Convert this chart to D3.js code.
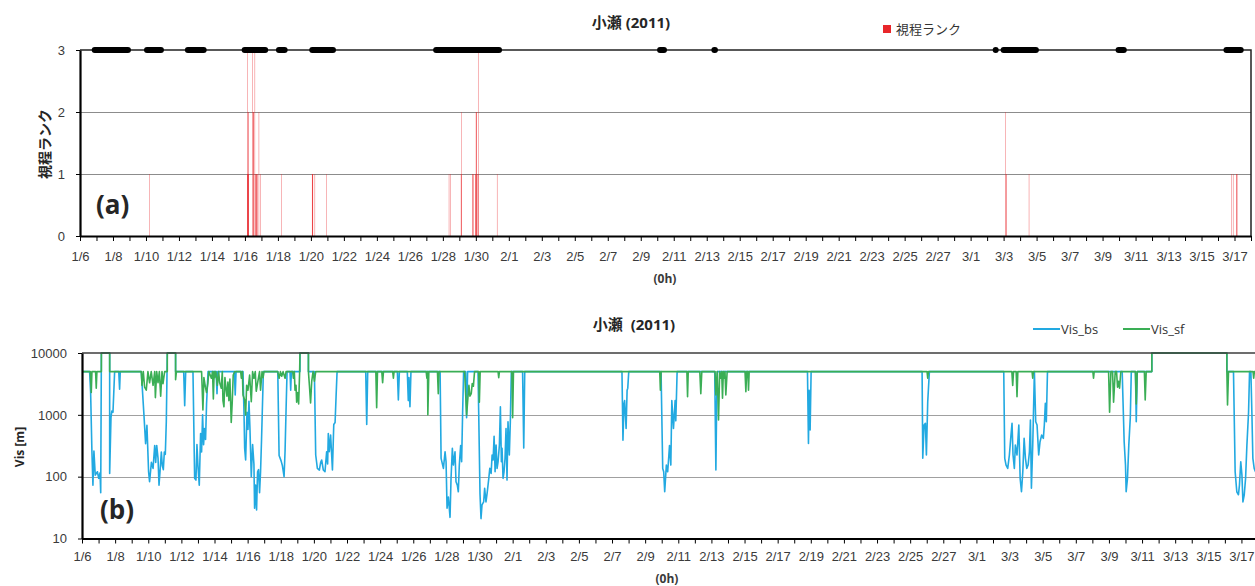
<!DOCTYPE html>
<html>
<head>
<meta charset="utf-8">
<script src="https://cdn.jsdelivr.net/npm/d3@7/dist/d3.min.js"></script>
<style>
	body { margin: 0; background: #fff; }
	svg { display: block; font-family: "Open Sans", "Noto Sans CJK JP", sans-serif; }
	.axis text { font-size: 13px; fill: #3a3a3a; }
	.axis path, .axis line { stroke: #000; }
</style>
</head>
<body>
<svg width="1255" height="586"></svg>
<script>
// days are counted from 1/6 0h
const dayCount = 71;

// 視程ランク : [hour from 1/6 0h, rank]
const rankObs = [
	[101, 1],
	[243.4, 3], [243.8, 1], [244.0, 1], [244.2, 1], [244.5, 2], [244.8, 1], [245.0, 2], [245.3, 1], [245.6, 1],
	[250.6, 3], [251.8, 2], [252.0, 2], [252.2, 2], [254.5, 3],
	[255.8, 1], [256.0, 1], [256.3, 1], [256.8, 1], [257.5, 1], [257.8, 1],
	[260.4, 2], [262.8, 1], [293.3, 1],
	[337.8, 1], [338.0, 1], [338.3, 1], [338.6, 1], [338.9, 1], [341.8, 1], [358.8, 1],
	[537, 1], [539.6, 1], [554.5, 1], [554.7, 2], [555.0, 1],
	[571.5, 1], [571.8, 1], [572.1, 1],
	[575.3, 1], [575.8, 1], [576.3, 2], [576.6, 2], [576.9, 2], [577.4, 1], [578.0, 1], [579.4, 3], [580.3, 1],
	[607, 1], [1347, 2], [1347.5, 1], [1348, 1], [1381, 1],
	[1676, 1], [1678, 1], [1683.3, 1], [1683.5, 1], [1683.7, 1],
];

// black bars on the rank-3 line : [start day, end day]
const fogSpans = [
	[0.71, 3.09], [3.88, 5.09], [6.36, 7.68], [9.8, 11.41], [11.88, 12.59], [13.9, 15.52],
	[21.41, 25.59], [34.99, 35.59], [38.28, 38.68], [55.5, 55.54], [55.82, 58.14],
	[62.79, 63.47], [69.33, 70.56],
];

// Vis_bs : [day, m]
const visBs = [
	[0, 5000], [0.46, 5000], [0.52, 2370], [0.6, 250], [0.66, 73], [0.72, 260], [0.8, 106], [0.93, 120],
	[1.01, 94], [1.09, 115], [1.13, 55], [1.17, 10000], [1.67, 10000], [1.67, 113], [1.75, 900],
	[1.8, 1150], [1.87, 1100], [1.97, 5000],
	[2.22, 5000], [2.27, 2600], [2.31, 5000],
	[3.58, 5000], [3.74, 1000], [3.84, 340], [3.92, 680], [4.02, 120], [4.08, 83], [4.19, 170],
	[4.29, 136], [4.39, 320], [4.45, 170], [4.51, 320], [4.59, 200], [4.65, 73], [4.71, 120],
	[4.79, 250], [4.85, 150], [4.91, 130], [4.97, 250], [5.03, 230], [5.09, 780], [5.15, 10000],
	[5.65, 10000], [5.65, 5000],
	[6.14, 5000], [6.2, 1400], [6.26, 5000],
	[6.7, 5000], [6.8, 94], [6.88, 88], [6.94, 330], [7.0, 150], [7.08, 73], [7.16, 500], [7.22, 250],
	[7.28, 1000], [7.34, 330], [7.4, 600], [7.46, 400], [7.52, 1500], [7.61, 5000],
	[8.1, 5000], [8.15, 2200], [8.2, 5000], [9.2, 5000], [9.25, 2100], [9.3, 5000],
	[9.72, 5000], [9.78, 1100], [9.82, 290], [9.88, 186], [9.96, 1100], [10.02, 580], [10.08, 1650],
	[10.14, 600], [10.22, 100], [10.3, 330], [10.38, 160], [10.42, 31], [10.48, 73], [10.54, 29],
	[10.6, 120], [10.66, 130], [10.72, 55], [10.78, 120], [10.84, 400], [10.88, 1000], [10.95, 5000],
	[11.82, 5000], [11.9, 220], [12.02, 180], [12.1, 150], [12.2, 100], [12.26, 260], [12.32, 1200],
	[12.38, 5000], [12.56, 5000], [12.6, 2500], [12.64, 5000],
	[13.16, 5000], [13.16, 10000], [13.67, 10000], [13.67, 5000],
	[14.03, 5000], [14.11, 224], [14.21, 136], [14.33, 128], [14.41, 170], [14.47, 186], [14.57, 128],
	[14.67, 120], [14.77, 253], [14.83, 160], [14.87, 500], [14.93, 253], [15.01, 470], [15.12, 128],
	[15.2, 700], [15.28, 750], [15.34, 2000], [15.4, 5000],
	[17.13, 5000], [17.19, 700], [17.25, 5000],
	[19.04, 5000], [19.1, 1740], [19.16, 5000],
	[19.64, 5000], [19.7, 1700], [19.74, 4000], [19.8, 1350], [19.86, 5000],
	[21.62, 5000], [21.68, 198], [21.82, 136], [21.92, 253], [21.98, 174], [22.04, 31], [22.12, 47],
	[22.22, 22], [22.28, 94], [22.36, 287], [22.42, 154], [22.52, 253], [22.58, 83], [22.66, 73],
	[22.72, 57], [22.78, 154], [22.86, 320], [22.92, 174], [22.98, 1100], [23.04, 5000],
	[23.16, 5000], [23.22, 900], [23.28, 5000],
	[23.91, 5000], [23.95, 1100], [24.03, 52], [24.09, 21], [24.15, 35], [24.25, 39], [24.31, 65],
	[24.39, 39], [24.46, 54], [24.56, 94], [24.62, 136], [24.7, 113], [24.76, 224], [24.82, 186],
	[24.88, 450], [24.94, 120], [25.0, 324], [25.06, 136], [25.12, 174], [25.2, 324], [25.26, 1350],
	[25.32, 174], [25.36, 287], [25.42, 94], [25.48, 120], [25.54, 198], [25.6, 600], [25.66, 88],
	[25.72, 775], [25.8, 224], [25.86, 775], [25.92, 5000],
	[26.6, 5000], [26.67, 290], [26.73, 5000],
	[32.6, 5000], [32.66, 390], [32.72, 1500], [32.76, 1700], [32.85, 600], [32.91, 2500], [32.95, 2700],
	[33.01, 5000],
	[34.96, 5000], [35.06, 136], [35.12, 120], [35.18, 57], [35.28, 154], [35.36, 120], [35.42, 200],
	[35.47, 320], [35.55, 154], [35.61, 1700], [35.71, 600], [35.81, 1700], [35.85, 800], [35.93, 5000],
	[38.2, 5000], [38.27, 128], [38.32, 1740], [38.36, 5000],
	[43.8, 5000], [43.86, 345], [43.9, 2500], [43.96, 570], [44.02, 5000],
	[50.72, 5000], [50.76, 198], [50.84, 684], [50.92, 728], [50.98, 224], [51.06, 1630], [51.16, 5000],
	[55.65, 5000], [55.71, 198], [55.79, 154], [55.89, 136], [55.99, 224], [56.07, 416], [56.15, 728],
	[56.21, 224], [56.29, 136], [56.35, 324], [56.45, 224], [56.56, 684], [56.64, 94], [56.72, 57],
	[56.8, 120], [56.88, 416], [56.96, 198], [57.04, 136], [57.12, 154], [57.2, 253], [57.26, 825],
	[57.32, 65], [57.4, 324], [57.5, 5000], [57.58, 775], [57.66, 684], [57.76, 224], [57.84, 367],
	[57.94, 471], [58.04, 416], [58.1, 684], [58.16, 1530], [58.22, 775], [58.29, 5000],
	[62.8, 5000], [62.92, 367], [63.0, 154], [63.04, 57], [63.12, 94], [63.2, 324], [63.29, 900],
	[63.35, 5000], [63.6, 5000], [63.65, 775], [63.71, 5000],
	[64.59, 5000], [64.59, 10000], [69.12, 10000], [69.12, 5000],
	[69.52, 5000], [69.62, 120], [69.72, 57], [69.82, 51], [69.88, 73], [69.96, 174], [70.03, 106],
	[70.09, 39], [70.17, 51], [70.25, 94], [70.33, 324], [70.43, 1100], [70.49, 5000], [70.57, 5000],
	[70.63, 1100], [70.69, 198], [70.77, 136], [70.85, 120], [71, 150],
];

// Vis_sf : [day, m]
const visSf = [
	[0, 5000], [0.5, 5000], [0.56, 2300], [0.6, 5000], [0.82, 5000], [0.86, 2700], [0.9, 5000],
	[1.17, 5000], [1.17, 10000], [1.67, 10000], [1.67, 5000],
	[3.58, 5000], [3.62, 3000], [3.7, 5000], [3.78, 2800], [3.88, 2500], [3.98, 5000], [4.08, 3300],
	[4.18, 5000], [4.29, 3000], [4.39, 5000], [4.43, 1900], [4.51, 5000], [4.59, 3300], [4.67, 5000],
	[4.75, 2000], [4.83, 5000], [4.89, 3200], [4.99, 5000], [5.15, 5000], [5.15, 10000],
	[5.65, 10000], [5.65, 3700], [5.7, 5000],
	[7.22, 5000], [7.3, 1200], [7.36, 4000], [7.45, 2800], [7.52, 2300], [7.6, 3300], [7.66, 5000],
	[7.81, 3900], [7.88, 5000], [7.93, 1800], [7.98, 5000], [8.01, 4000], [8.08, 5000], [8.17, 3000],
	[8.25, 5000], [8.31, 3300], [8.41, 2700], [8.47, 5000], [8.51, 1700], [8.57, 1350], [8.63, 4000],
	[8.69, 2700], [8.75, 2000], [8.81, 3400], [8.87, 1700], [8.93, 3800], [9.01, 750], [9.07, 1600],
	[9.13, 4400], [9.22, 5000],
	[9.58, 5000], [9.62, 3900], [9.68, 5000], [9.72, 2100], [9.82, 1740], [9.88, 1000], [9.94, 3000],
	[10.02, 2500], [10.12, 4400], [10.22, 1630], [10.3, 5000], [10.38, 3900], [10.46, 5000],
	[10.52, 2400], [10.62, 3500], [10.72, 5000], [10.78, 2500], [10.87, 5000], [10.93, 4000],
	[10.99, 5000],
	[11.82, 5000], [11.9, 3900], [11.98, 5000], [12.06, 4200], [12.14, 5000], [12.26, 3900],
	[12.32, 5000], [12.72, 5000], [12.76, 3900], [12.82, 5000], [12.86, 2500], [12.92, 3000],
	[12.96, 1600], [13.02, 2300], [13.08, 1500], [13.14, 5000], [13.16, 10000], [13.67, 10000],
	[13.67, 5000], [13.73, 3000], [13.8, 1550], [13.87, 3500], [13.95, 5000], [14.03, 3500],
	[14.11, 5000],
	[17.74, 5000], [17.79, 1300], [17.84, 5000], [18.1, 5000], [18.15, 3300], [18.2, 5000],
	[18.76, 5000], [18.8, 3900], [18.84, 5000],
	[20.78, 5000], [20.82, 3900], [20.86, 5000], [20.88, 1000], [20.94, 5000], [21.46, 5000],
	[21.51, 2200], [21.56, 5000],
	[23.1, 5000], [23.22, 1000], [23.3, 1900], [23.36, 3000], [23.42, 2000], [23.5, 2200],
	[23.56, 3200], [23.63, 2900], [23.7, 5000], [23.95, 5000], [23.99, 1600], [24.04, 5000],
	[25.12, 5000], [25.16, 4000], [25.2, 5000], [25.95, 5000], [26.0, 900], [26.05, 5000],
	[34.88, 5000], [34.92, 2500], [34.96, 5000],
	[36.52, 5000], [36.56, 1960], [36.6, 5000], [37.3, 5000], [37.36, 2200], [37.42, 5000],
	[38.22, 5000], [38.27, 2090], [38.35, 5000], [38.43, 825], [38.5, 5000], [38.57, 3900],
	[38.62, 5000], [38.67, 1850], [38.72, 5000], [38.77, 3900], [38.82, 5000], [38.87, 2100],
	[38.95, 5000],
	[40.03, 5000], [40.08, 2370], [40.13, 5000], [40.2, 5000], [40.24, 2500], [40.28, 5000],
	[51.02, 5000], [51.06, 3900], [51.1, 5000],
	[56.14, 5000], [56.19, 3000], [56.24, 5000], [56.4, 5000], [56.45, 1960], [56.5, 5000],
	[57.36, 5000], [57.4, 3900], [57.44, 5000],
	[61.03, 5000], [61.07, 3900], [61.11, 5000],
	[61.98, 5000], [62.04, 1100], [62.12, 5000], [62.22, 5000], [62.28, 1600], [62.38, 5000],
	[62.46, 5000], [62.52, 2800], [62.58, 3500], [62.64, 2700], [62.72, 5000],
	[63.6, 5000], [63.65, 1500], [63.71, 5000], [64.14, 5000], [64.19, 1740], [64.25, 5000],
	[64.59, 5000], [64.59, 10000], [69.12, 10000], [69.12, 5000], [69.16, 1440], [69.22, 5000],
	[70.7, 5000], [70.74, 3900], [70.78, 5000], [71, 5000],
];

const rankTicks = [0, 1, 2, 3];
const visTicks = [10, 100, 1000, 10000];
const title = "小瀬 (2011)";

const svg = d3.select("svg");

const dateLabel = (d) => {
	const t = new Date(Date.UTC(2011, 0, 6 + d));
	return t.getUTCMonth() + 1 + "/" + t.getUTCDate();
};

const drawDayAxis = (g, x, y0, pad) => {
	g.append("g")
		.attr("class", "axis")
		.attr("transform", "translate(0," + y0 + ")")
		.call(
			d3.axisBottom(x)
				.tickValues(d3.range(0, dayCount + 1))
				.tickFormat("")
				.tickSize(5)
				.tickSizeOuter(0)
		)
		.call((a) => a.select(".domain").attr("stroke-width", 2.2));
	g.append("g")
		.attr("class", "axis")
		.attr("transform", "translate(0," + y0 + ")")
		.call(
			d3.axisBottom(x)
				.tickValues(d3.range(0, dayCount, 2))
				.tickFormat(dateLabel)
				.tickSize(0)
				.tickPadding(pad)
		)
		.call((a) => a.select(".domain").remove());
};

const drawLeftAxis = (g, y, x0, ticks, fmt) => {
	g.append("g")
		.attr("class", "axis")
		.attr("transform", "translate(" + x0 + ",0)")
		.call(d3.axisLeft(y).tickValues(ticks).tickFormat(fmt).tickSize(4).tickPadding(11).tickSizeOuter(0))
		.call((a) => a.select(".domain").attr("stroke-width", 2.2));
};

// ---------- (a) rank panel ----------
const drawRankPanel = () => {
	const x = d3.scaleLinear().domain([0, dayCount]).range([80, 1251]);
	const y = d3.scaleLinear().domain([0, 3]).range([236, 50]);
	const g = svg.append("g");

	g.selectAll(".grid")
		.data([1, 2])
		.join("line")
		.attr("x1", x(0))
		.attr("x2", x(dayCount))
		.attr("y1", (d) => Math.round(y(d)) + 0.5)
		.attr("y2", (d) => Math.round(y(d)) + 0.5)
		.attr("stroke", "#8c8c8c");

	g.selectAll(".rank")
		.data(rankObs)
		.join("rect")
		.attr("x", (d) => x(d[0] / 24) - 0.17)
		.attr("width", 0.34)
		.attr("y", (d) => y(d[1]))
		.attr("height", (d) => y(0) - y(d[1]))
		.attr("fill", "#e8262a");

	g.append("path")
		.attr("d", "M" + x(0) + "," + y(3) + "H" + x(dayCount) + "V" + y(0))
		.attr("fill", "none")
		.attr("stroke", "#222")
		.attr("stroke-width", 1.5);

	g.selectAll(".fog")
		.data(fogSpans)
		.join("line")
		.each(function (d) {
			let a = x(d[0]) + 3,
				b = x(d[1]) - 3;
			if (b < a) a = b = (a + b) / 2;
			d3.select(this).attr("x1", a).attr("x2", b);
		})
		.attr("y1", y(3))
		.attr("y2", y(3))
		.attr("stroke", "#000")
		.attr("stroke-width", 6)
		.attr("stroke-linecap", "round");

	drawLeftAxis(g, y, x(0), rankTicks, d3.format("d"));
	drawDayAxis(g, x, y(0), 16);

	g.append("text")
		.attr("x", 631)
		.attr("y", 28)
		.attr("text-anchor", "middle")
		.attr("font-size", "15px")
		.attr("font-weight", "bold")
		.attr("fill", "#262626")
		.text(title);

	g.append("text")
		.attr("transform", "translate(44,144) rotate(-90)")
		.attr("text-anchor", "middle")
		.attr("dominant-baseline", "central")
		.attr("font-size", "14px")
		.attr("font-weight", "bold")
		.attr("fill", "#262626")
		.text("視程ランク");

	g.append("text")
		.attr("x", 96)
		.attr("y", 214)
		.attr("font-size", "26px")
		.attr("font-weight", "bold")
		.attr("fill", "#262626")
		.text("(a)");

	g.append("text")
		.attr("x", 665)
		.attr("y", 283)
		.attr("text-anchor", "middle")
		.attr("font-size", "12px")
		.attr("font-weight", "bold")
		.attr("fill", "#3a3a3a")
		.text("(0h)");

	g.append("rect")
		.attr("x", 883)
		.attr("y", 25)
		.attr("width", 8)
		.attr("height", 8)
		.attr("fill", "#e8262a");
	g.append("text")
		.attr("x", 896)
		.attr("y", 34)
		.attr("font-size", "13px")
		.attr("fill", "#333")
		.text("視程ランク");
};

// ---------- (b) visibility panel ----------
const drawVisPanel = () => {
	const x = d3.scaleLinear().domain([0, dayCount]).range([82, 1258]);
	const y = d3.scaleLog().domain([10, 10000]).range([538.5, 353]);
	const g = svg.append("g");

	g.append("clipPath")
		.attr("id", "visClip")
		.append("rect")
		.attr("x", x(0))
		.attr("y", 349)
		.attr("width", x(dayCount) - x(0))
		.attr("height", 192);

	g.selectAll(".grid")
		.data([100, 1000])
		.join("line")
		.attr("x1", x(0))
		.attr("x2", 1255)
		.attr("y1", (d) => Math.round(y(d)) + 0.5)
		.attr("y2", (d) => Math.round(y(d)) + 0.5)
		.attr("stroke", "#a0a0a0");

	const line = d3
		.line()
		.x((d) => x(d[0]))
		.y((d) => y(d[1]));

	const series = [
		{ name: "Vis_bs", data: visBs, colour: "#22a9e1" },
		{ name: "Vis_sf", data: visSf, colour: "#3aae55" },
	];

	series.forEach((s) => {
		g.append("path")
			.attr("clip-path", "url(#visClip)")
			.attr("d", line(s.data))
			.attr("fill", "none")
			.attr("stroke", s.colour)
			.attr("stroke-width", 1.6)
			.attr("stroke-linejoin", "round");
	});

	g.append("line")
		.attr("x1", x(0))
		.attr("x2", 1255)
		.attr("y1", y(10000))
		.attr("y2", y(10000))
		.attr("stroke", "#3c3c3c")
		.attr("stroke-width", 1.5);

	drawLeftAxis(g, y, x(0), visTicks, d3.format("d"));
	drawDayAxis(g, x, y(10), 13.5);

	g.append("text")
		.attr("x", 634)
		.attr("y", 330)
		.attr("text-anchor", "middle")
		.attr("font-size", "15px")
		.attr("font-weight", "bold")
		.attr("fill", "#262626")
		.attr("xml:space", "preserve")
		.style("white-space", "pre")
		.text("小瀬  (2011)");

	g.append("text")
		.attr("transform", "translate(19,447) rotate(-90)")
		.attr("text-anchor", "middle")
		.attr("dominant-baseline", "central")
		.attr("font-size", "12px")
		.attr("font-weight", "bold")
		.attr("fill", "#262626")
		.text("Vis [m]");

	g.append("text")
		.attr("x", 100)
		.attr("y", 519)
		.attr("font-size", "26px")
		.attr("font-weight", "bold")
		.attr("fill", "#262626")
		.text("(b)");

	g.append("text")
		.attr("x", 667)
		.attr("y", 583)
		.attr("text-anchor", "middle")
		.attr("font-size", "12px")
		.attr("font-weight", "bold")
		.attr("fill", "#3a3a3a")
		.text("(0h)");

	const legend = g
		.selectAll(".legend")
		.data(series)
		.join("g")
		.attr("transform", (d, i) => "translate(" + (1033 + i * 90) + ",329)");
	legend
		.append("line")
		.attr("x1", 0)
		.attr("x2", 27)
		.attr("stroke", (d) => d.colour)
		.attr("stroke-width", 2);
	legend
		.append("text")
		.attr("x", 28)
		.attr("y", 4.5)
		.attr("font-size", "13px")
		.attr("fill", "#333")
		.text((d) => d.name);
};

drawRankPanel();
drawVisPanel();
</script>
</body>
</html>
